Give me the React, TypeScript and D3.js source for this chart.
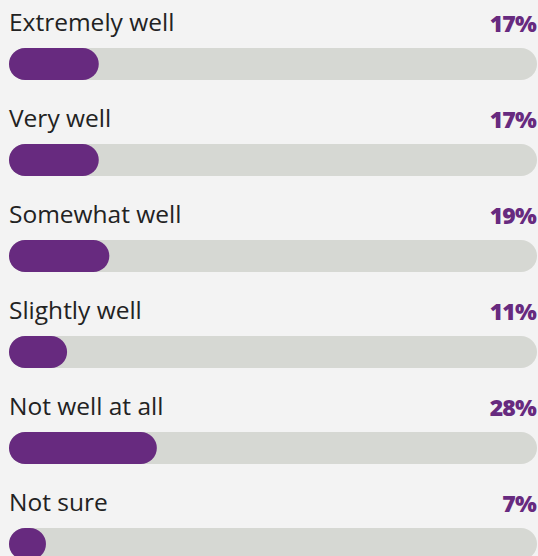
import React from "react";
import * as d3 from "d3";

const categories = ["Extremely well", "Very well", "Somewhat well", "Slightly well", "Not well at all", "Not sure"];
const values = [17, 17, 19, 11, 28, 7];

const W = 538;
const H = 556;

export default function App() {
  const x = d3.scaleLinear().domain([0, 100]).range([9, 537]);
  const y = d3.scaleBand<number>().domain(d3.range(categories.length)).range([0, 96 * categories.length]);
  const barH = 32;
  const r = 16;
  return (
    <svg width={W} height={H} style={{ position: "absolute", left: 0, top: 0, background: "#f3f3f3" }}>
      {categories.map((c, i) => {
        const y0 = y(i)!;
        return (
          <g key={c}>
            <text x={9} y={y0 + 31} fontFamily="'Open Sans', sans-serif" fontSize={24.5} fill="#222">{c}</text>
            <text x={536} y={y0 + 32} textAnchor="end" fontFamily="'Open Sans', sans-serif" fontWeight={800} fontSize={23} letterSpacing={-0.8} fill="#672a7f">{values[i]}%</text>
            <rect x={x(0)} y={y0 + 48} width={x(100) - x(0)} height={barH} rx={r} fill="#d6d8d3" />
            <rect x={x(0)} y={y0 + 48} width={x(values[i]) - x(0)} height={barH} rx={r} fill="#672a7f" />
          </g>
        );
      })}
    </svg>
  );
}
